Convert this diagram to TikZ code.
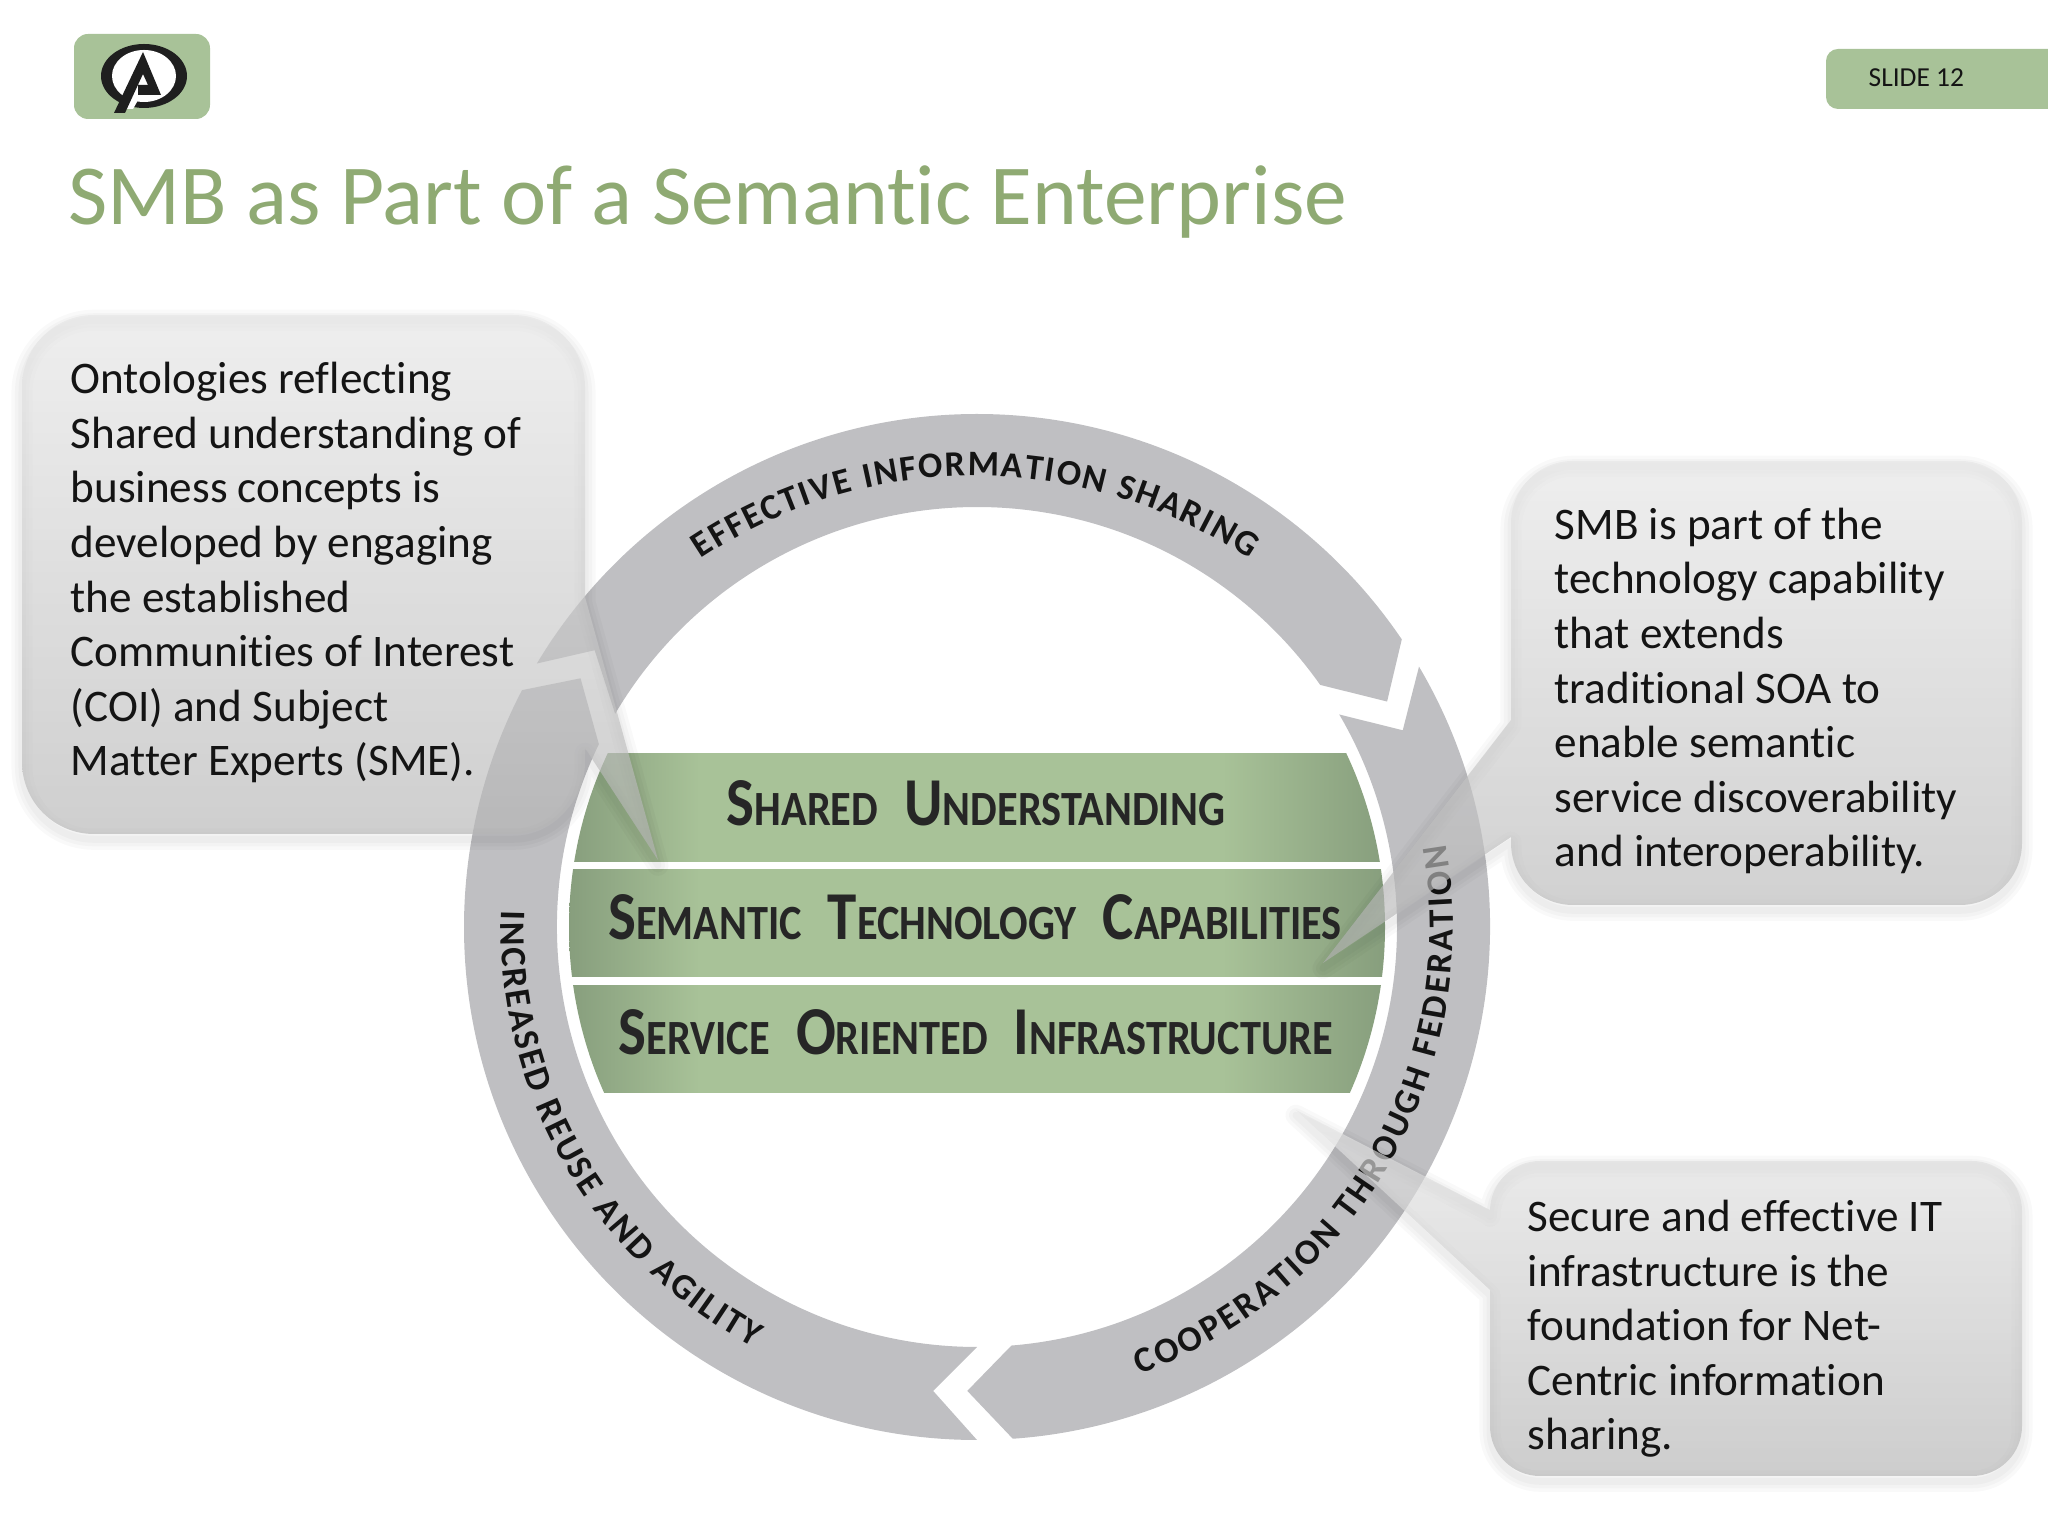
\documentclass[tikz,border=0pt]{standalone}
\usepackage{fontspec}
\usetikzlibrary{decorations.text}
\setmainfont{Carlito}[Ligatures=NoCommon]
\newfontfamily\barrafont{Carlito}[FakeStretch=0.86,Ligatures=NoCommon]
\definecolor{verdeclaro}{RGB}{168,194,152}
\definecolor{verdeborda}{RGB}{135,158,125}
\definecolor{verdetitulo}{RGB}{143,170,115}
\definecolor{cinzaanel}{RGB}{191,191,194}
\definecolor{pretotexto}{RGB}{20,20,20}
\pgfdeclarehorizontalshading{barraverde}{100bp}{color(0bp)=(verdeborda); color(25bp)=(verdeborda); color(33bp)=(verdeclaro); color(65bp)=(verdeclaro); color(75bp)=(verdeborda); color(100bp)=(verdeborda)}
\newcommand{\versal}[2]{{\fontsize{19.5}{20}\selectfont #1}{\fontsize{14}{20}\selectfont #2}}
\newcommand{\letraanel}{\bfseries\fontsize{10.2}{11}\selectfont\color{pretotexto}}
\newcommand{\balaoA}{(658,676) -- (585,939) -- (585,1149) arc[start angle=0,end angle=90,radius=72] -- (94,1221) arc[start angle=90,end angle=180,radius=72] -- (22,774) arc[start angle=180,end angle=270,radius=72] -- (513,702) arc[start angle=270,end angle=360,radius=72] -- (585,788) -- cycle}
\newcommand{\balaoB}{(1323,573) -- (1511,816) -- (1511,1013) arc[start angle=180,end angle=90,radius=62] -- (1960,1075) arc[start angle=90,end angle=0,radius=62] -- (2022,693) arc[start angle=360,end angle=270,radius=62] -- (1573,631) arc[start angle=270,end angle=180,radius=62] -- (1511,699) -- cycle}
\newcommand{\balaoC}{(1296,426) -- (1490,326) -- (1490,325) arc[start angle=180,end angle=90,radius=50] -- (1972,375) arc[start angle=90,end angle=0,radius=50] -- (2022,110) arc[start angle=360,end angle=270,radius=50] -- (1540,60) arc[start angle=270,end angle=180,radius=50] -- (1490,246) -- cycle}
\begin{document}
\begin{tikzpicture}[x=0.01cm,y=0.01cm,
	anel/.style={fill=cinzaanel},
	barra/.style={shading=barraverde},
	balao/.style={top color=black!10,bottom color=black!30,fill opacity=0.65},
	sombra/.style={draw=black,draw opacity=0.022,yshift=-1.5pt,line join=round,line width=#1},
	textobalao/.style={anchor=base west,align=left,inner sep=0,text=pretotexto,font=\fontsize{12.85}{15.53}\selectfont},
	textobarra/.style={anchor=base,inner sep=0,text=black!85,font=\barrafont\bfseries},
	rotulo/.style={decorate,decoration={text along path,text align=fit to path,text={#1}}}]
	% Definir coordenadas e area da figura
	\useasboundingbox (0,0) rectangle (2048,1536);
	\coordinate (C) at (977,609); % centro do anel
	
	% Desenhar logotipo
	\fill[verdeclaro,rounded corners=4pt] (74,1417) rectangle (210,1502);
	\fill[black!88] (144,1460) ellipse (43 and 32);
	\fill[white] (144,1460) ellipse (32 and 26);
	\fill[white] (128,1438) -- (141,1441) -- (133,1427) -- (125,1427) -- cycle;
	\fill[black!88] (143,1484) -- (161,1441) -- (138,1441) -- (138,1451) -- (148,1451) -- (143,1462) -- (125,1423) -- (114,1423) -- cycle;
	
	% Faixa do numero do slide
	\fill[verdeclaro] (2048,1487) -- (1838,1487) arc[start angle=90,end angle=180,radius=12] -- (1826,1439) arc[start angle=180,end angle=270,radius=12] -- (2048,1427) -- cycle;
	\node[anchor=base west,inner sep=0,font=\fontsize{7.8}{10}\selectfont,text=pretotexto] (numero) at (1868,1449) {SLIDE 12};
	
	% Titulo
	\node[anchor=base west,inner sep=0,font=\fontsize{24.3}{30}\selectfont,text=verdetitulo] (titulo) at (68,1311) {SMB as Part of a Semantic Enterprise};
	
	% Desenhar o anel em tres partes
	\begin{scope}[shift={(C)}]
		\fill[anel] (149.1:513) arc[start angle=149.1,end angle=34.1,radius=513] -- (28.8:468) -- (35.2:420) arc[start angle=35.2,end angle=149.5,radius=420] -- (144.1:472) -- cycle;
		\fill[anel] (30.5:513) arc[start angle=30.5,end angle=-86,radius=513] -- (-91.2:464) -- (-85.3:420) arc[start angle=-85.3,end angle=30.4,radius=420] -- (24.8:469) -- cycle;
		\fill[anel] (270:513) arc[start angle=270,end angle=152.5,radius=513] -- (147.9:468) -- (154.2:420) arc[start angle=154.2,end angle=270,radius=420] -- (264.6:466) -- cycle;
	\end{scope}
	
	% Rotulos ao longo do anel
	\path[rotulo={|\letraanel|EFFECTIVE INFORMATION SHARING}] (975,566) ++(123.7:494) arc[start angle=123.7,end angle=56.3,radius=494];
	\path[rotulo={|\letraanel|COOPERATION THROUGH FEDERATION}] (C) ++(-70:476) arc[start angle=-70,end angle=10,radius=476];
	\path[rotulo={|\letraanel|INCREASED REUSE AND AGILITY}] (C) ++(178:476) arc[start angle=178,end angle=242,radius=476];
	
	% Barras verdes recortadas pelo circulo
	\begin{scope}
		\clip (C) circle (408);
		\shade[barra] (569,674) rectangle (1385,782);
		\shade[barra] (569,559) rectangle (1385,666);
		\shade[barra] (569,443) rectangle (1385,550);
	\end{scope}
	\node[textobarra] (compartilhado) at (976,710) {\versal{S}{HARED}\hspace{2.6mm}\versal{U}{NDERSTANDING}};
	\node[textobarra] (tecnologia) at (975,596) {\versal{S}{EMANTIC}\hspace{2.6mm}\versal{T}{ECHNOLOGY}\hspace{2.6mm}\versal{C}{APABILITIES}};
	\node[textobarra] (servico) at (976,481) {\versal{S}{ERVICE}\hspace{2.6mm}\versal{O}{RIENTED}\hspace{2.6mm}\versal{I}{NFRASTRUCTURE}};
	
	% Sombra suave dos baloes
	\foreach \w in {2pt,4pt,6pt} {
		\path[sombra=\w] \balaoA;
		\path[sombra=\w] \balaoB;
		\path[sombra=\w] \balaoC;
	}
	
	% Baloes translucidos com ponta
	\shade[balao] \balaoA;
	\shade[balao] \balaoB;
	\shade[balao] \balaoC;
	
	% Textos dos baloes
	\node[textobalao] (ontologias) at (70,760) {Ontologies reflecting\\Shared understanding of\\business concepts is\\developed by engaging\\the established\\Communities of Interest\\(COI) and Subject\\Matter Experts (SME).};
	\node[textobalao] (semantico) at (1554,669) {SMB is part of the\\technology capability\\that extends\\traditional SOA to\\enable semantic\\service discoverability\\and interoperability.};
	\node[textobalao] (infra) at (1527,86) {Secure and effective IT\\infrastructure is the\\foundation for Net-\\Centric information\\sharing.};
\end{tikzpicture}
\end{document}
